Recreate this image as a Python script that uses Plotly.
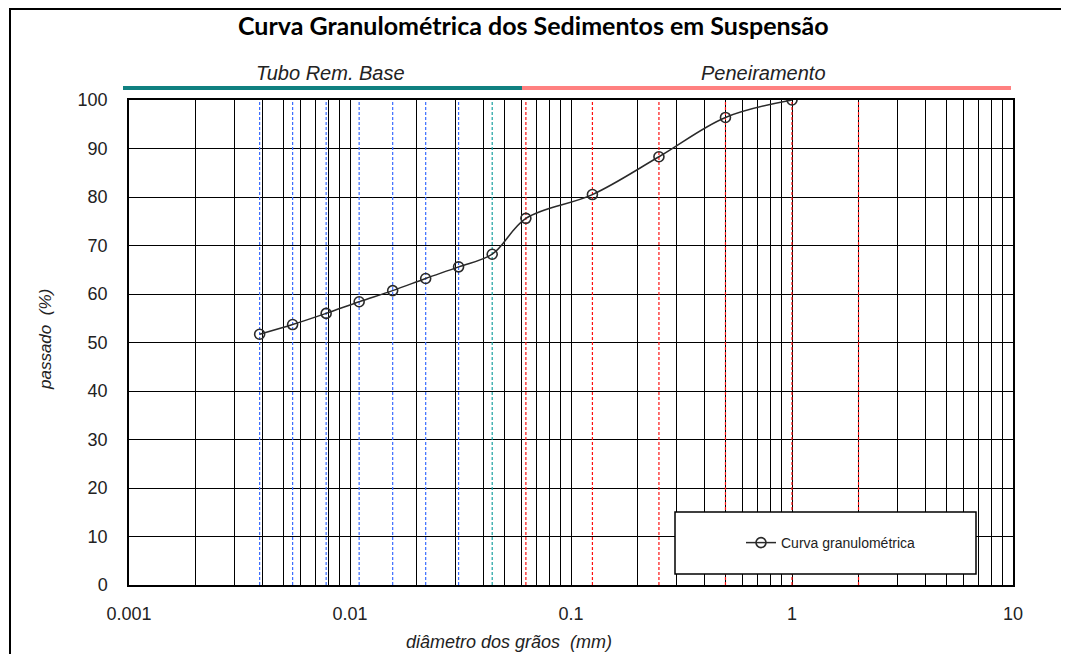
import plotly.graph_objects as go

# ---- data ----
diametro_mm = [0.0039, 0.0055, 0.0078, 0.011, 0.0156, 0.022, 0.031, 0.044,
               0.0625, 0.125, 0.25, 0.5, 1.0]
passado_pct = [51.7, 53.7, 56.0, 58.4, 60.7, 63.2, 65.6, 68.2,
               75.6, 80.5, 88.3, 96.4, 100.0]

linhas_tubo = [0.0039, 0.0055, 0.0078, 0.011, 0.0156, 0.022, 0.031]
linhas_tubo_ultima = [0.044]
linhas_peneira = [0.0625, 0.125, 0.25, 0.5, 1.0, 2.0]

x_tickvals = [0.001, 0.01, 0.1, 1, 10]
x_ticktext = ["0.001", "0.01", "0.1", "1", "10"]
y_tickvals = [0, 10, 20, 30, 40, 50, 60, 70, 80, 90, 100]

# page body has an 8px margin: figure sits at (8, 8) on screen
OFF = 8
W, H = 1069 - 2 * OFF, 662 - 2 * OFF
SX0, SX1, SY0, SY1 = 129, 1013, 100, 585  # plot area in screen pixels
L = SX0 - OFF
T = SY0 - OFF
R = W - (SX1 - OFF)
B = H - (SY1 - OFF)
PW, PH = W - L - R, H - T - B


def px(xs):
    return (xs - SX0) / PW


def py(ys):
    return (SY1 - ys) / PH


fig = go.Figure()
fig.add_trace(go.Scatter(
    x=diametro_mm, y=passado_pct, mode="lines+markers",
    name="Curva granulométrica",
    line=dict(color="#2a2a2a", width=1.5, shape="spline", smoothing=1.0),
    marker=dict(symbol="circle-open", size=10, color="#2a2a2a",
                line=dict(width=1.6, color="#2a2a2a")),
))

shapes = []
for xv in linhas_tubo:
    shapes.append(dict(type="line", xref="x", yref="y", x0=xv, x1=xv, y0=0, y1=100,
                       layer="between", line=dict(color="#3a6cff", width=1.2, dash="3px,2px")))
for xv in linhas_tubo_ultima:
    shapes.append(dict(type="line", xref="x", yref="y", x0=xv, x1=xv, y0=0, y1=100,
                       layer="between", line=dict(color="#1aa0a0", width=1.2, dash="3px,2px")))
for xv in linhas_peneira:
    shapes.append(dict(type="line", xref="x", yref="y", x0=xv, x1=xv, y0=0, y1=100,
                       layer="between", line=dict(color="#ff1010", width=1.2, dash="3px,2px")))

# top range bars
shapes.append(dict(type="line", xref="paper", yref="paper", x0=px(123), x1=px(522),
                   y0=py(88), y1=py(88), layer="above", line=dict(color="#108080", width=4)))
shapes.append(dict(type="line", xref="paper", yref="paper", x0=px(522), x1=px(1011),
                   y0=py(88), y1=py(88), layer="above", line=dict(color="#ff8080", width=4)))
# legend box
shapes.append(dict(type="rect", xref="paper", yref="paper", x0=px(675), x1=px(976),
                   y0=py(574), y1=py(512), layer="above", fillcolor="white",
                   line=dict(color="black", width=1.5)))
# outer frame
shapes.append(dict(type="line", xref="paper", yref="paper", x0=px(9), x1=px(1080),
                   y0=py(9), y1=py(9), layer="above", line=dict(color="black", width=2)))
shapes.append(dict(type="line", xref="paper", yref="paper", x0=px(10), x1=px(10),
                   y0=py(8), y1=py(680), layer="above", line=dict(color="black", width=2)))

annotations = [
    dict(text="<b>Curva Granulométrica dos Sedimentos em Suspensão</b>", xref="paper", yref="paper",
         x=px(533), y=py(25), showarrow=False, xanchor="center", yanchor="middle",
         font=dict(family="Lato, Arial, sans-serif", size=25, color="black")),
    dict(text="<i>Tubo Rem. Base</i>", xref="paper", yref="paper", x=px(330), y=py(73),
         showarrow=False, xanchor="center", yanchor="middle",
         font=dict(family="Liberation Sans, Arial", size=20, color="#222")),
    dict(text="<i>Peneiramento</i>", xref="paper", yref="paper", x=px(763), y=py(73),
         showarrow=False, xanchor="center", yanchor="middle",
         font=dict(family="Liberation Sans, Arial", size=20, color="#222")),
    dict(text="<i>passado  (%)</i>", xref="paper", yref="paper", x=px(45), y=py(340),
         showarrow=False, xanchor="center", yanchor="middle", textangle=-90,
         font=dict(family="Liberation Sans, Arial", size=17, color="#222")),
    dict(text="<i>diâmetro dos grãos  (mm)</i>", xref="paper", yref="paper", x=px(509), y=py(642),
         showarrow=False, xanchor="center", yanchor="middle",
         font=dict(family="Liberation Sans, Arial", size=18, color="#222")),
]

fig.update_layout(
    width=W, height=H,
    margin=dict(l=L, r=R, t=T, b=B, autoexpand=False),
    paper_bgcolor="white", plot_bgcolor="white",
    shapes=shapes, annotations=annotations,
    showlegend=True,
    legend=dict(x=px(741), y=py(543), xanchor="left", yanchor="middle",
                bgcolor="rgba(0,0,0,0)", borderwidth=0,
                font=dict(family="Liberation Sans, Arial", size=14, color="#222")),
    xaxis=dict(type="log", range=[-3, 1], tickvals=x_tickvals, ticktext=x_ticktext,
               showgrid=True, gridcolor="black", gridwidth=1,
               minor=dict(dtick="D1", showgrid=True, gridcolor="black", gridwidth=1, ticks=""),
               showline=True, linecolor="black", linewidth=1.5, mirror=True,
               ticks="outside", ticklen=12, tickcolor="rgba(0,0,0,0)",
               tickfont=dict(family="Liberation Sans, Arial", size=18, color="#222"),
               zeroline=False),
    yaxis=dict(range=[0, 100], tickvals=y_tickvals,
               showgrid=True, gridcolor="black", gridwidth=1,
               showline=True, linecolor="black", linewidth=1.5, mirror=True,
               ticks="outside", ticklen=16, tickcolor="rgba(0,0,0,0)",
               tickfont=dict(family="Liberation Sans, Arial", size=18, color="#222"),
               zeroline=False),
)

fig.write_html("out.html")
